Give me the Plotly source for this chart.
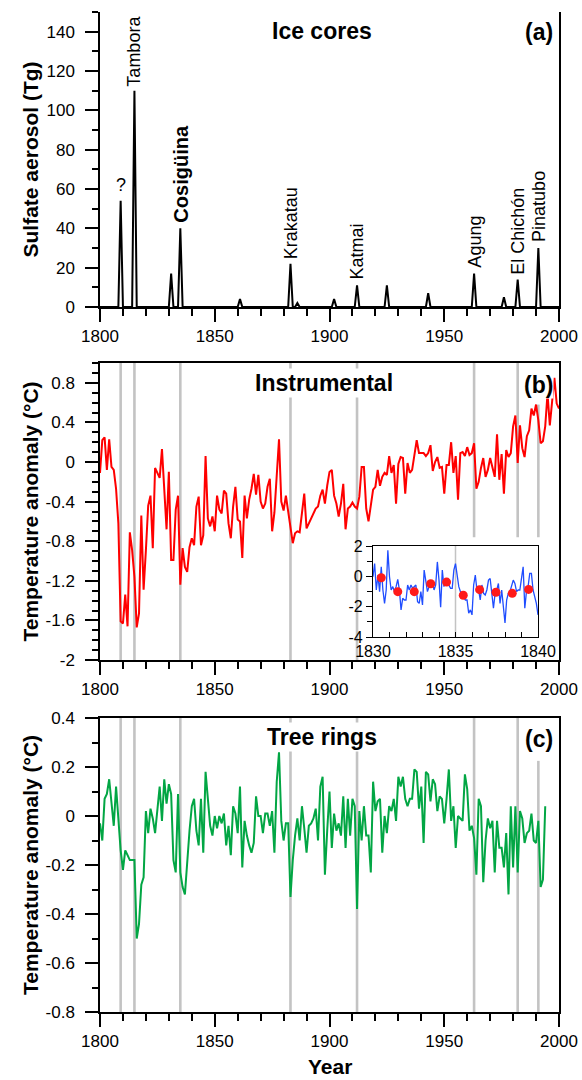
import plotly.graph_objects as go

# ---------------- data ----------------
years = list(range(1800, 2001))

eruption_years = [1809, 1815, 1831, 1835, 1861, 1883, 1886, 1902, 1912, 1925, 1943, 1963, 1976, 1982, 1991]
sulfate_tg = [54, 110, 17, 40, 4, 22, 2, 4, 11, 11, 7, 17, 5, 14, 30]

volcano_names = ["?", "Tambora", "Cosigüina", "Krakatau", "Katmai", "Agung", "El Chichón", "Pinatubo"]
volcano_name_years = [1809, 1815, 1835.4, 1883, 1912, 1963.4, 1982, 1991]
volcano_name_base = [56, 111, 42, 23.5, 13, 19, 15.5, 32]

marker_years = [1809, 1815, 1835, 1883, 1912, 1963, 1982, 1991]

temp_instrumental = [
    -0.11, 0.22, 0.25, -0.08, 0.23, -0.05, -0.08, -0.27, -0.62, -1.61,
    -1.63, -1.34, -1.66, -0.71, -0.89, -1.16, -1.67, -1.53, -0.54, -1.29,
    -0.89, -0.44, -0.34, -0.87, -0.06, -0.11, -0.16, 0.13, -0.35, -0.68,
    -0.10, -0.99, -0.99, -0.48, -0.34, -1.24, -0.87, -1.06, -1.11, -0.86,
    -0.77, -0.84, -0.45, -0.35, -0.84, -0.74, 0.06, -0.57, -0.65, -0.55,
    -0.70, -0.34, -0.48, -0.52, -0.29, -0.32, -0.62, -0.77, -0.45, -0.25,
    -0.58, -0.60, -0.97, -0.34, -0.57, -0.38, -0.27, -0.12, -0.33, -0.13,
    -0.40, -0.47, -0.42, -0.25, -0.17, -0.70, -0.51, -0.15, 0.23, -0.40,
    -0.49, -0.34, -0.50, -0.65, -0.82, -0.72, -0.70, -0.71, -0.52, -0.32,
    -0.67, -0.62, -0.57, -0.53, -0.47, -0.45, -0.34, -0.28, -0.42, -0.24,
    -0.10, -0.08, -0.34, -0.42, -0.55,
    -0.42, -0.22, -0.68, -0.47, -0.45, -0.41, -0.45, -0.47, -0.35, -0.05,
    -0.05, -0.47, -0.60, -0.45, -0.28, -0.25, -0.08, -0.24, -0.15, -0.11,
    -0.13, 0.06, -0.11, -0.03, -0.42, -0.02, 0.05, 0.04, -0.32, -0.01,
    -0.11, -0.08, 0.07, 0.22, 0.09, 0.09, 0.09, 0.06, 0.09, 0.17,
    -0.09, 0.00, 0.05, -0.06, -0.05, -0.32, -0.03, -0.03, 0.20, -0.11,
    0.06, -0.38, 0.09, 0.10, 0.06, 0.15, 0.07, 0.09, 0.19, -0.27,
    -0.20, -0.06, 0.04, -0.15, -0.08, 0.04, -0.05, -0.15, 0.28, -0.18,
    0.08, -0.32, 0.12, 0.05, 0.09, 0.36, 0.47, -0.01, 0.37, 0.14,
    0.05, 0.26, 0.32, 0.54, 0.47, 0.58, 0.42, 0.19, 0.21, 0.36,
    0.69, 0.37, 0.61, 0.85, 0.59, 0.54,
]

tree_years = list(range(1800, 1995))
temp_tree_rings = [
    -0.03, -0.10, 0.07, 0.09, 0.15, 0.04, -0.04, 0.12, 0.00, -0.14,
    -0.22, -0.14, -0.16, -0.18, -0.18, -0.18, -0.50, -0.44, -0.28, -0.25,
    0.02, -0.07, 0.03, -0.01, -0.07, 0.04, 0.12, -0.02, 0.15, 0.05,
    0.13, 0.09, -0.18, -0.23, 0.09, -0.23, -0.29, -0.32, -0.17, -0.06,
    0.04, 0.07, -0.06, -0.12, 0.07, -0.15, 0.18, 0.05, -0.04, -0.08,
    0.00, -0.05, 0.00, -0.03, 0.01, -0.12, -0.04, -0.16, 0.04, 0.01,
    -0.07, 0.12, -0.21, -0.02, -0.08, -0.12, -0.15, -0.11, 0.08, 0.00,
    0.00, -0.07, 0.01, 0.01, -0.04, 0.02, -0.15, 0.14, 0.26, -0.02,
    -0.10, -0.03, -0.03, -0.33, -0.18, -0.08, -0.01, -0.10, 0.04, -0.05,
    -0.15, -0.04, -0.03, -0.01, 0.03, -0.10, 0.12, 0.16, -0.24, -0.06,
    0.10, -0.13, 0.01, -0.06,
    -0.03, -0.08, 0.08, -0.13, 0.07, -0.08, 0.07, 0.04, -0.38, 0.02,
    -0.10, 0.04, -0.08, -0.08, -0.23, 0.14, 0.02, 0.06, 0.07, -0.15,
    0.00, -0.07, 0.04, 0.02, 0.07, -0.02, 0.16, 0.12, 0.16, 0.07,
    0.04, 0.07, 0.07, 0.19, 0.18, 0.03, 0.12, -0.11, 0.18, 0.17,
    0.06, 0.15, 0.13, 0.02, 0.08, 0.07, -0.03, 0.07, 0.19, -0.02,
    0.04, -0.13, 0.00, -0.01, -0.02, 0.17, 0.11, -0.06, -0.04, -0.09,
    -0.24, 0.07, 0.04, -0.27, -0.10, -0.01,
    -0.05,
    -0.02, -0.23, -0.02, -0.13, -0.13, -0.21, -0.07, -0.32, 0.04, -0.21,
    0.04, -0.23, 0.02, -0.01, -0.11, -0.07, -0.06, 0.01, -0.10, -0.11,
    -0.02, -0.29, -0.26, 0.04,
]

inset_monthly = [
    -0.03, 0.84, -0.90, 0.08, -1.01, 0.63, -0.90, -1.78, -0.90, 1.72,
    -0.03, -0.90, -0.68, -1.01, -0.68, -0.20, -0.90, -2.21, -1.45, -1.56,
    -1.56, -0.57, -0.90, -0.57, -0.79, -0.68, -0.57, -1.67, -1.78, -1.01,
    -1.88, 0.41, -0.25, -1.01, -0.68, -0.47, -0.36, -0.90, -0.57, 0.95,
    -0.25, -2.04, 0.41, -0.68, -0.14, -0.36, -0.57, -0.79, -0.79, 0.41,
    0.84, -0.14, -0.68, -1.01, -1.23, -1.34, -1.56, -1.56, -2.43, -2.21,
    -2.54, -0.57, 0.08, -0.90, -0.90, -1.56, -0.57, -1.12, -1.23, -0.90,
    -0.25, -0.14, -1.01, -2.10, -1.12, -0.90, -0.47, -1.78, -0.90, -1.99,
    -3.08, -1.56, -1.12, -1.01, -0.68, -0.25, -0.47, -1.01, -0.90, -0.90,
    -0.14, 0.63, -2.10, -1.01, -0.68, 0.19, 0.19, -0.90, -1.34, -1.78,
    -2.54,
]
inset_annual_years = [1830.5, 1831.5, 1832.5, 1833.5, 1834.46, 1835.47, 1836.46, 1837.45, 1838.44, 1839.43]
inset_annual = [-0.09, -1.01, -1.01, -0.49, -0.38, -1.25, -0.88, -1.05, -1.12, -0.86]

# ---------------- build ----------------
sulfate = [0.0] * len(years)
for yr, v in zip(eruption_years, sulfate_tg):
    sulfate[yr - 1800] = v

n_m = len(inset_monthly)
inset_t = [1830 + 10.0 * i / (n_m - 1) for i in range(n_m)]

W, H = 582, 1080
def px(x):
    return x / W
def py(y):
    return 1 - y / H

XD = [px(100), px(559)]
YA = [py(307), py(12)]
YB = [py(660), py(363)]
YC = [py(1012), py(718)]
XI = [px(373), px(538)]
YI = [py(637), py(546)]

FONT = "Liberation Sans, Arial, Helvetica, sans-serif"
GRAY = "#c3c3c3"
AXC = "black"
TICKF = dict(family=FONT, size=17, color="black")

fig = go.Figure()

fig.add_trace(go.Scatter(x=years, y=sulfate, mode="lines", line=dict(color="black", width=2),
                         xaxis="x", yaxis="y", showlegend=False))
fig.add_trace(go.Scatter(x=years, y=temp_instrumental, mode="lines", line=dict(color="#ff0000", width=2),
                         xaxis="x2", yaxis="y2", showlegend=False))
fig.add_trace(go.Scatter(x=tree_years, y=temp_tree_rings, mode="lines", line=dict(color="#02a644", width=2),
                         xaxis="x3", yaxis="y3", showlegend=False))
fig.add_trace(go.Scatter(x=inset_t, y=inset_monthly, mode="lines", line=dict(color="#1f4dff", width=1.3),
                         xaxis="x4", yaxis="y4", showlegend=False))
fig.add_trace(go.Scatter(x=inset_annual_years, y=inset_annual, mode="markers",
                         marker=dict(color="#ff1a1a", size=9), xaxis="x4", yaxis="y4", showlegend=False))

def xaxis_main(anchor, mirror):
    return dict(domain=XD, range=[1800, 2000], anchor=anchor, showline=True, linecolor=AXC, linewidth=1.5,
                mirror=mirror, ticks="outside", ticklen=13, tickwidth=1.5, tickcolor=AXC,
                tickvals=[1800, 1850, 1900, 1950, 2000], tickfont=TICKF,
                minor=dict(ticks="outside", dtick=10, tick0=1800, ticklen=7, tickwidth=1.5, tickcolor=AXC),
                showgrid=False, zeroline=False, automargin=False)

def yaxis_main(domain, rng, tv, tt, minor_dt, anchor):
    return dict(domain=domain, range=rng, anchor=anchor, showline=True, linecolor=AXC, linewidth=1.5,
                mirror=True, ticks="outside", ticklen=13, tickwidth=1.5, tickcolor=AXC,
                tickvals=tv, ticktext=tt, tickfont=TICKF, ticklabelstandoff=7,
                minor=dict(ticks="outside", dtick=minor_dt, tick0=0, ticklen=6, tickwidth=1.5, tickcolor=AXC),
                showgrid=False, zeroline=False, automargin=False)

shapes = []
for yr in marker_years:
    if yr in (1963, 1982):
        shapes.append(dict(type="line", xref="x2", yref="y2", x0=yr, x1=yr, y0=-0.76, y1=1.0,
                           line=dict(color=GRAY, width=2.6), layer="below"))
    elif yr == 1991:
        shapes.append(dict(type="line", xref="x2", yref="y2", x0=yr, x1=yr, y0=-0.76, y1=0.58,
                           line=dict(color=GRAY, width=2.6), layer="below"))
    else:
        shapes.append(dict(type="line", xref="x2", yref="y2 domain", x0=yr, x1=yr, y0=0, y1=1,
                           line=dict(color=GRAY, width=2.6), layer="below"))
    if yr == 1991:
        shapes.append(dict(type="line", xref="x3", yref="y3", x0=yr, x1=yr, y0=-0.8, y1=0.225,
                           line=dict(color=GRAY, width=2.6), layer="below"))
    else:
        shapes.append(dict(type="line", xref="x3", yref="y3 domain", x0=yr, x1=yr, y0=0, y1=1,
                           line=dict(color=GRAY, width=2.6), layer="below"))
shapes.append(dict(type="line", xref="x4", yref="y4 domain", x0=1835, x1=1835, y0=0, y1=1,
                   line=dict(color=GRAY, width=1.5), layer="below"))

annotations = []
for txt, dom in [("Sulfate aerosol (Tg)", YA), ("Temperature anomaly (°C)", YB), ("Temperature anomaly (°C)", YC)]:
    annotations.append(dict(text="<b>%s</b>" % txt, x=px(30), y=(dom[0] + dom[1]) / 2, xref="paper", yref="paper",
                            textangle=-90, showarrow=False, xanchor="center", yanchor="middle",
                            font=dict(family=FONT, size=21, color="black")))
annotations.append(dict(text="<b>Year</b>", x=(XD[0] + XD[1]) / 2, y=py(1066), xref="paper", yref="paper",
                        showarrow=False, xanchor="center", yanchor="middle",
                        font=dict(family=FONT, size=21, color="black")))

for txt, x, y in [("Ice cores", 322, 31), ("Instrumental", 324, 383), ("Tree rings", 322, 737)]:
    annotations.append(dict(text="<b>%s</b>" % txt, x=px(x), y=py(y), xref="paper", yref="paper",
                            showarrow=False, xanchor="center", yanchor="middle", bgcolor="white",
                            font=dict(family=FONT, size=23, color="black")))
for txt, y in [("(a)", 32), ("(b)", 385), ("(c)", 739)]:
    annotations.append(dict(text="<b>%s</b>" % txt, x=px(554), y=py(y), xref="paper", yref="paper",
                            showarrow=False, xanchor="right", yanchor="middle", bgcolor="white", borderpad=0,
                            font=dict(family=FONT, size=23, color="black")))

for name, xv, yv in zip(volcano_names, volcano_name_years, volcano_name_base):
    if name == "?":
        annotations.append(dict(text=name, x=xv, y=yv, xref="x", yref="y", showarrow=False,
                                xanchor="center", yanchor="bottom",
                                font=dict(family=FONT, size=18, color="black")))
    else:
        txt = "<b>%s</b>" % name if name == "Cosigüina" else name
        annotations.append(dict(text=txt, x=xv, y=yv, xref="x", yref="y", showarrow=False, textangle=-90,
                                xanchor="center", yanchor="bottom",
                                font=dict(family=FONT, size=20 if name == "Cosigüina" else 18, color="black")))

fig.update_layout(
    width=W, height=H, margin=dict(l=0, r=0, t=0, b=0),
    paper_bgcolor="white", plot_bgcolor="rgba(0,0,0,0)",
    font=dict(family=FONT, color="black"),
    showlegend=False,
    xaxis=xaxis_main("y", False),
    yaxis=yaxis_main(YA, [0, 150], [0, 20, 40, 60, 80, 100, 120, 140],
                     ["0", "20", "40", "60", "80", "100", "120", "140"], 10, "x"),
    xaxis2=xaxis_main("y2", True),
    yaxis2=yaxis_main(YB, [-2, 1], [-2, -1.6, -1.2, -0.8, -0.4, 0, 0.4, 0.8],
                      ["-2", "-1.6", "-1.2", "-0.8", "-0.4", "0", "0.4", "0.8"], 0.1, "x2"),
    xaxis3=xaxis_main("y3", True),
    yaxis3=yaxis_main(YC, [-0.8, 0.4], [-0.8, -0.6, -0.4, -0.2, 0, 0.2, 0.4],
                      ["-0.8", "-0.6", "-0.4", "-0.2", "0", "0.2", "0.4"], 0.1, "x3"),
    xaxis4=dict(domain=XI, range=[1830, 1840], anchor="y4", showline=True, linecolor=AXC, linewidth=1.2,
                mirror=True, ticks="inside", ticklen=5, tickwidth=1.2, tickcolor=AXC,
                tickvals=[1830, 1835, 1840], tickfont=dict(family=FONT, size=16, color="black"),
                minor=dict(ticks="inside", dtick=1, tick0=1830, ticklen=5, tickwidth=1.2, tickcolor=AXC),
                showgrid=False, zeroline=False, automargin=False),
    yaxis4=dict(domain=YI, range=[-4, 2], anchor="x4", showline=True, linecolor=AXC, linewidth=1.2,
                mirror=True, ticks="outside", ticklen=6, tickwidth=1.2, tickcolor=AXC,
                tickvals=[-4, -2, 0, 2], ticktext=["-4", "-2", "0", "2"],
                tickfont=dict(family=FONT, size=16, color="black"),
                minor=dict(ticks="outside", dtick=1, tick0=0, ticklen=5, tickwidth=1.2, tickcolor=AXC),
                showgrid=False, zeroline=False, automargin=False),
    shapes=shapes,
    annotations=annotations,
)

fig.write_html("out.html", config={"displayModeBar": False},
               post_script="document.body.style.margin='0';document.body.style.padding='0';")
